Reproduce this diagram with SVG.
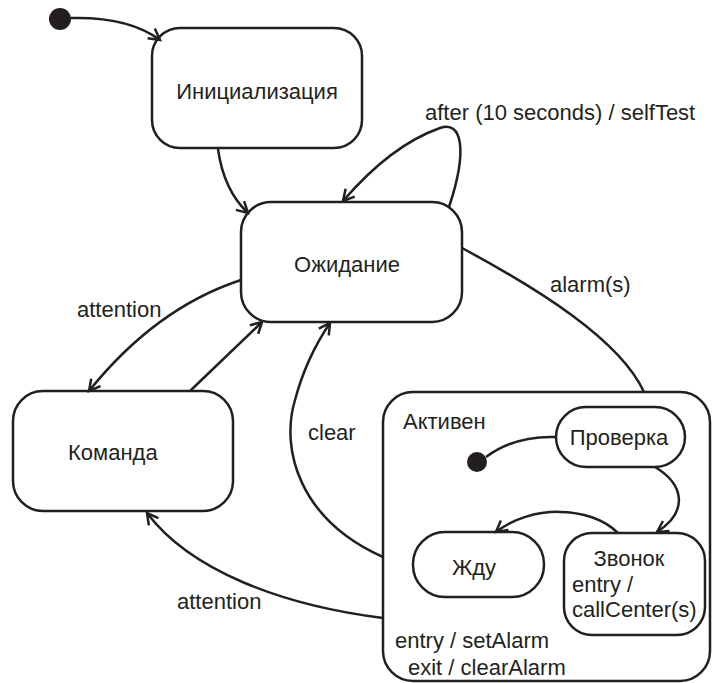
<svg xmlns="http://www.w3.org/2000/svg" width="713" height="683" viewBox="0 0 713 683">
<style>
.box{fill:#fff;stroke:#231f20;stroke-width:2.5}
.edge{fill:none;stroke:#231f20;stroke-width:2.5}
.t{font-family:"Liberation Sans",Arial,sans-serif;font-size:22px;fill:#231f20}
.c{text-anchor:middle}
.dot{fill:#231f20}
</style>
<defs>
<marker id="arr" markerUnits="userSpaceOnUse" markerWidth="16" markerHeight="16" viewBox="0 0 16 16" refX="13" refY="8" orient="auto">
<path d="M2,2 L13,8 L2,14" fill="none" stroke="#231f20" stroke-width="2.5"/>
</marker>
</defs>
<g id="nodes">
<g id="init"><circle class="dot" cx="60" cy="19" r="11"/></g>
<g id="initialization"><rect class="box" x="152" y="28" width="210" height="120" rx="28"/><text class="t c" x="257" y="99">Инициализация</text></g>
<g id="waiting"><rect class="box" x="241" y="202" width="221" height="120" rx="30"/><text class="t c" x="347" y="272">Ожидание</text></g>
<g id="command"><rect class="box" x="13" y="391" width="220" height="120" rx="30"/><text class="t" x="68" y="460">Команда</text></g>
<g id="active"><rect class="box" x="383" y="392" width="327" height="289" rx="30"/>
<text class="t" x="403" y="429">Активен</text>
<text class="t" x="395" y="648">entry / setAlarm</text>
<text class="t" x="408" y="675">exit / clearAlarm</text>
</g>
<g id="inner-init"><circle class="dot" cx="477" cy="462" r="10"/></g>
<g id="check"><rect class="box" x="556" y="407" width="129" height="60" rx="30"/><text class="t c" x="619" y="445">Проверка</text></g>
<g id="wait"><rect class="box" x="413" y="532" width="131" height="65" rx="32"/><text class="t c" x="474" y="575">Жду</text></g>
<g id="call"><rect class="box" x="564" y="533" width="141" height="102" rx="28"/>
<text class="t c" x="629" y="566">Звонок</text>
<text class="t" x="572" y="592">entry /</text>
<text class="t" x="572" y="617">callCenter(s)</text>
</g>
</g>
<g id="connectors">
<path class="edge" marker-end="url(#arr)" d="M71,18 C110,17 140,25 160,40"/>
<path class="edge" marker-end="url(#arr)" d="M218,149 C222,178 232,198 248,213"/>
<path class="edge" marker-end="url(#arr)" d="M449,207 C468,150 462,120 440,128 C400,142 368,172 343,201"/>
<path class="edge" d="M462,248 C540,290 620,340 644,392"/>
<path class="edge" marker-end="url(#arr)" d="M241,280 C180,300 130,340 89,391"/>
<path class="edge" marker-end="url(#arr)" d="M190,391 L262,322"/>
<path class="edge" marker-end="url(#arr)" d="M383,557 C300,520 280,450 295,400 C303,370 315,345 330,323"/>
<path class="edge" marker-end="url(#arr)" d="M383,618 C280,605 190,570 147,513"/>
<path class="edge" d="M486,457 C505,443 530,436 556,437"/>
<path class="edge" marker-end="url(#arr)" d="M655,467 C685,485 688,512 657,532"/>
<path class="edge" marker-end="url(#arr)" d="M618,533 C590,505 530,505 496,532"/>
</g>
<g id="labels">
<text class="t" x="425" y="120">after (10 seconds) / selfTest</text>
<text class="t" x="550" y="292">alarm(s)</text>
<text class="t" x="77" y="317">attention</text>
<text class="t" x="308" y="440">clear</text>
<text class="t" x="177" y="609">attention</text>
</g>
</svg>
